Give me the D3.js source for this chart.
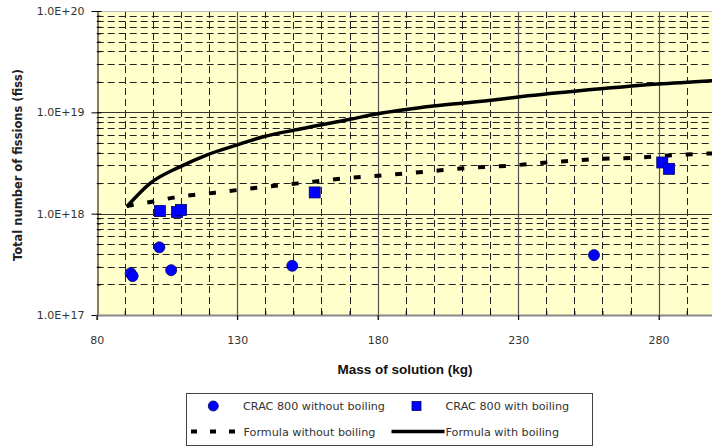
<!DOCTYPE html>
<html><head><meta charset="utf-8">
<script src="https://cdn.jsdelivr.net/npm/d3@7"></script>
<style>
html,body{margin:0;padding:0;background:#fff;}
svg{display:block;}
</style></head>
<body>
<svg id="chart" width="712" height="448"></svg>
<script>
// ---- data ----
const circleMass = [92.1, 92.8, 102.3, 106.5, 149.6, 257.0];
const circleFiss = [2.58e17, 2.42e17, 4.65e17, 2.77e17, 3.06e17, 3.9e17];
const squareMass = [102.5, 108.6, 110.0, 157.6, 281.3, 283.7];
const squareFiss = [1.06e18, 1.04e18, 1.09e18, 1.62e18, 3.2e18, 2.77e18];
const solidMass = [90.7, 99.0, 109.6, 119.1, 129.8, 139.3, 152.3, 170.1, 179.6, 199.8, 218.8, 229.4, 250.8, 279.7, 300];
const solidFiss = [1.17e18, 1.99e18, 2.90e18, 3.79e18, 4.75e18, 5.74e18, 6.84e18, 8.53e18, 9.62e18, 1.153e19, 1.30e19, 1.41e19, 1.62e19, 1.90e19, 2.06e19];
const dashMass = [90.7, 99.6, 107.3, 122.1, 136.9, 151.7, 166.8, 181.8, 196.6, 211.4, 226.3, 241.3, 256.2, 270.9, 286.0, 300];
const dashFiss = [1.19e18, 1.31e18, 1.44e18, 1.61e18, 1.80e18, 1.99e18, 2.21e18, 2.39e18, 2.59e18, 2.82e18, 2.97e18, 3.21e18, 3.44e18, 3.56e18, 3.79e18, 3.94e18];
const xTicks = [80, 130, 180, 230, 280];
const yTicks = [1e17, 1e18, 1e19, 1e20];
const yTickLabels = ["1.0E+17", "1.0E+18", "1.0E+19", "1.0E+20"];
const seriesNames = ["CRAC 800 without boiling", "CRAC 800 with boiling", "Formula without boiling", "Formula with boiling"];
const xTitle = "Mass of solution (kg)";
const yTitle = "Total number of fissions (fiss)";

// ---- layout ----
const svg = d3.select("#chart");
const L = 96.7, R = 714.8, T = 11, B = 315;
const x = d3.scaleLinear().domain([80, 300]).range([L, R]);
const y = d3.scaleLog().domain([1e17, 1e20]).range([B, T]);
const font = "'DejaVu Sans', Verdana, sans-serif";

// background
svg.append("rect").attr("x", L).attr("y", T).attr("width", 712 - L).attr("height", B - T).attr("fill", "#FFFFCC");

// minor grid values
const xMinor = d3.range(90, 300, 10).filter(v => !xTicks.includes(v));
const yMinor = [];
[1e17, 1e18, 1e19].forEach(d => { for (let k = 2; k <= 9; k++) yMinor.push(d * k); });

const px = v => Math.round(v) + 0.5;
const grid = svg.append("g");
grid.selectAll(".hm").data(yMinor).join("line")
  .attr("x1", L).attr("x2", 712).attr("y1", d => px(y(d))).attr("y2", d => px(y(d)))
  .attr("stroke", "#222").attr("stroke-width", 1).attr("stroke-dasharray", "7,4");
grid.selectAll(".vm").data(xMinor).join("line")
  .attr("y1", T).attr("y2", B).attr("x1", d => px(x(d))).attr("x2", d => px(x(d)))
  .attr("stroke", "#222").attr("stroke-width", 1).attr("stroke-dasharray", "7,4");
grid.selectAll(".hM").data(yTicks.slice(1, 3)).join("line")
  .attr("x1", L).attr("x2", 712).attr("y1", d => px(y(d))).attr("y2", d => px(y(d)))
  .attr("stroke", "#333").attr("stroke-width", 1);
grid.selectAll(".vM").data(xTicks.slice(1)).join("line")
  .attr("y1", T).attr("y2", B + 5).attr("x1", d => px(x(d))).attr("x2", d => px(x(d)))
  .attr("stroke", "#555").attr("stroke-width", 1.2);
// top border
svg.append("line").attr("x1", L).attr("x2", 712).attr("y1", T + 0.5).attr("y2", T + 0.5).attr("stroke", "#bbb");

// axes
const yAxis = svg.append("g").attr("transform", `translate(${px(L)},0)`)
  .call(d3.axisLeft(y).tickValues(yTicks).tickFormat((d, i) => yTickLabels[i]).tickSize(5).tickPadding(8));
yAxis.selectAll(".tick line").attr("x2", -6).attr("x1", 4);
const yMinorAxis = svg.append("g").attr("transform", `translate(${px(L)},0)`)
  .call(d3.axisRight(y).tickValues(yMinor).tickFormat("").tickSize(3));
yMinorAxis.select(".domain").remove();

const xAxis = svg.append("g").attr("transform", `translate(0,${B})`)
  .call(d3.axisBottom(x).tickValues(xTicks).tickFormat(d3.format("d")).tickSize(5).tickPadding(16));
xAxis.select(".domain").attr("stroke", "#888").attr("stroke-width", 2);
const xMinorAxis = svg.append("g").attr("transform", `translate(0,${B})`)
  .call(d3.axisTop(x).tickValues(xMinor).tickFormat("").tickSize(4));
xMinorAxis.select(".domain").remove();

[yAxis, xAxis].forEach(a => {
  a.selectAll("text").attr("font-family", font).attr("font-size", 11).attr("fill", "#333");
  a.selectAll(".tick line").attr("stroke", "#000");
});
yAxis.select(".domain").attr("stroke", "#000");
[yMinorAxis, xMinorAxis].forEach(a => a.selectAll("line").attr("stroke", "#000"));

// lines
svg.append("defs").append("clipPath").attr("id", "clip").append("rect")
  .attr("x", L).attr("y", T).attr("width", R - L).attr("height", B - T);
const line = d3.line().x(d => x(d[0])).y(d => y(d[1])).curve(d3.curveMonotoneX);
const plot = svg.append("g").attr("clip-path", "url(#clip)");
plot.append("path").datum(d3.zip(dashMass, dashFiss)).attr("d", line)
  .attr("fill", "none").attr("stroke", "#000").attr("stroke-width", 4).attr("stroke-dasharray", "7,13.8");
plot.append("path").datum(d3.zip(solidMass, solidFiss)).attr("d", line)
  .attr("fill", "none").attr("stroke", "#000").attr("stroke-width", 3.5).attr("stroke-linejoin", "round");

// markers
plot.selectAll(".c").data(d3.zip(circleMass, circleFiss)).join("circle")
  .attr("cx", d => x(d[0])).attr("cy", d => y(d[1])).attr("r", 5.5)
  .attr("fill", "#0000FF").attr("stroke", "#000066").attr("stroke-width", 0.8);
plot.selectAll(".s").data(d3.zip(squareMass, squareFiss)).join("rect")
  .attr("x", d => x(d[0]) - 5.5).attr("y", d => y(d[1]) - 5.5).attr("width", 11).attr("height", 11)
  .attr("fill", "#0000FF").attr("stroke", "#000066").attr("stroke-width", 0.8);

// titles
svg.append("text").attr("x", 405).attr("y", 374).attr("text-anchor", "middle")
  .attr("font-family", "'Liberation Sans', Arial, sans-serif").attr("font-weight", "bold").attr("font-size", 13.5)
  .attr("fill", "#111").text(xTitle);
svg.append("text").attr("transform", "translate(22,165) rotate(-90)").attr("text-anchor", "middle")
  .attr("font-family", font).attr("font-weight", "bold").attr("font-size", 11.5).attr("fill", "#222").text(yTitle);

// legend
const lg = svg.append("g");
lg.append("rect").attr("x", 186.5).attr("y", 393.5).attr("width", 406).attr("height", 52)
  .attr("fill", "#fff").attr("stroke", "#444").attr("stroke-width", 1);
const lfont = (s) => s.attr("font-family", font).attr("font-size", 11.2).attr("fill", "#333");
lg.append("circle").attr("cx", 213.3).attr("cy", 406).attr("r", 5).attr("fill", "#0000FF").attr("stroke", "#000066").attr("stroke-width", 0.8);
lg.append("text").attr("x", 243).attr("y", 410).text(seriesNames[0]).call(lfont);
lg.append("rect").attr("x", 412).attr("y", 401.5).attr("width", 9).attr("height", 9).attr("fill", "#0000FF").attr("stroke", "#000066").attr("stroke-width", 0.8);
lg.append("text").attr("x", 445.5).attr("y", 410).text(seriesNames[1]).call(lfont);
lg.append("line").attr("x1", 191).attr("x2", 242).attr("y1", 431.5).attr("y2", 431.5)
  .attr("stroke", "#000").attr("stroke-width", 4).attr("stroke-dasharray", "6,13");
lg.append("text").attr("x", 243.5).attr("y", 435.5).text(seriesNames[2]).call(lfont);
lg.append("line").attr("x1", 391.5).attr("x2", 444.5).attr("y1", 431.5).attr("y2", 431.5)
  .attr("stroke", "#000").attr("stroke-width", 3.5);
lg.append("text").attr("x", 445.5).attr("y", 435.5).text(seriesNames[3]).call(lfont);
</script>
</body></html>
